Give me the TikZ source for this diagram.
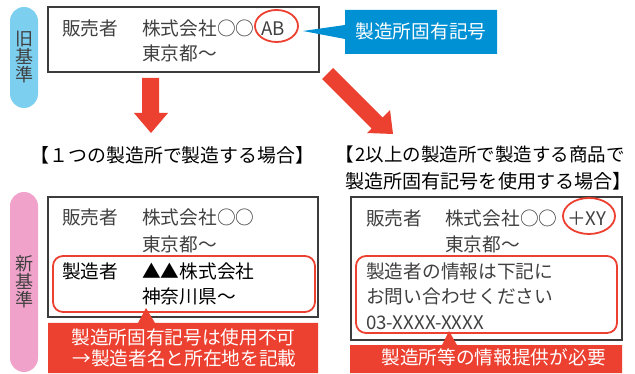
\documentclass[tikz,border=0pt]{standalone}
\usepackage{fontspec}
\setmainfont{Noto Sans CJK JP}
\definecolor{myred}{RGB}{236,64,48}
\definecolor{myblue}{RGB}{0,144,212}
\definecolor{pillblue}{RGB}{125,207,240}
\definecolor{pillpink}{RGB}{240,162,202}
\definecolor{tgray}{RGB}{64,64,64}
\definecolor{boxgray}{RGB}{60,60,60}
\begin{document}
\begin{tikzpicture}[x=1pt,y=-1pt,
  txt/.style={inner sep=0pt, anchor=base west, font=\fontsize{18.7}{20}\selectfont, text=tgray},
  em/.style={txt, text=black},
  wtxt/.style={inner sep=0pt, anchor=base, font=\fontsize{18.7}{20}\selectfont, text=white},
  head/.style={inner sep=0pt, font=\fontsize{18.9}{20}\selectfont, text=black},
  panel/.style={draw=boxgray, line width=1.3pt},
  redround/.style={draw=myred, line width=1.8pt, rounded corners=10pt},
  redring/.style={draw=myred, line width=1.8pt},
  pilltxt/.style={inner sep=0pt, align=center, font=\fontsize{18}{18}\selectfont, text=tgray}]
\useasboundingbox (0,0) rectangle (635,374);

% pills
\fill[pillblue, rounded corners=14pt] (10,7) rectangle (38,108);
\node[pilltxt] (oldlbl) at (24.5,57) {旧\\基\\準};
\fill[pillpink, rounded corners=14pt] (10,192) rectangle (38,372);
\node[pilltxt] (newlbl) at (24.5,282) {新\\基\\準};

% old box
\draw[panel] (48,7) rectangle (319,72);
\node[txt] (o1) at (62,35.5) {販売者};
\node[txt] (o2) at (142,35.5) {株式会社○○};
\node[txt] (ab) at (261,35.5) {AB};
\node[txt] (o3) at (142,61) {東京都〜};
\draw[redring] (276.5,26) ellipse [x radius=21.5, y radius=16];

% blue callout
\fill[myblue] (345,10) -- (497,10) -- (497,54) -- (345,54) -- (345,39) -- (303,31) -- (345,25) -- cycle;
\node[wtxt] (code) at (421,38.5) {製造所固有記号};

% arrows
\fill[myred] (142,78) -- (159,78) -- (159,113) -- (168,113) -- (151,133) -- (134,113) -- (142,113) -- cycle;
\fill[myred] (322,79) -- (333,68) -- (382.5,117.5) -- (390,110) -- (393,134) -- (367,133) -- (371.5,128.5) -- cycle;

% headings
\node[head, anchor=base] (h1) at (172.5,162.5) {【１つの製造所で製造する場合】};
\node[head, anchor=base east, font=\fontsize{18.5}{20}\selectfont] (h2a) at (625,162) {{\addfontfeature{RawFeature=+halt}【}\kern2pt 2以上の製造所で製造する商品で};
\node[head, anchor=base west, font=\fontsize{19.1}{20}\selectfont] (h2b) at (345,188.5) {製造所固有記号を使用する場合】};

% new left box
\draw[panel] (48,197) rectangle (318,317);
\node[txt] (l1) at (62,225) {販売者};
\node[txt] (l2) at (142,225) {株式会社○○};
\node[txt] (l3) at (142,251.5) {東京都〜};
\node[em] (l4) at (62,278.5) {製造者};
\node[em] (l5) at (142,278.5) {▲▲株式会社};
\node[em] (l6) at (142,303.5) {神奈川県〜};
\draw[redround] (53,256) rectangle (315,312);

% left red callout
\fill[myred] (48,323) -- (138,323) -- (146,308) -- (155,323) -- (318,323) -- (318,373) -- (48,373) -- cycle;
\node[wtxt] (c1) at (183.5,344.5) {製造所固有記号は使用不可};
\node[wtxt] (c2) at (184.5,365.5) {→製造者名と所在地を記載};

% new right box
\draw[panel] (351,197) rectangle (622,340);
\node[txt] (r1) at (366,226) {販売者};
\node[txt] (r2) at (445,226) {株式会社○○};
\node[txt] (xy) at (567,226) {＋XY};
\node[txt] (r3) at (445,251.5) {東京都〜};
\node[txt] (r4) at (366,278.5) {製造者の情報は下記に};
\node[txt] (r5) at (366,304) {お問い合わせください};
\node[txt] (r6) at (366,329.5) {03-XXXX-XXXX};
\draw[redring] (589,216) ellipse [x radius=26, y radius=18];
\draw[redround] (356,256) rectangle (617,333);

% right red callout
\fill[myred] (350,345) -- (442,345) -- (449,331) -- (457,345) -- (622,345) -- (622,373) -- (350,373) -- cycle;
\node[wtxt] (c3) at (493.5,364.5) {製造所等の情報提供が必要};
\end{tikzpicture}
\end{document}
